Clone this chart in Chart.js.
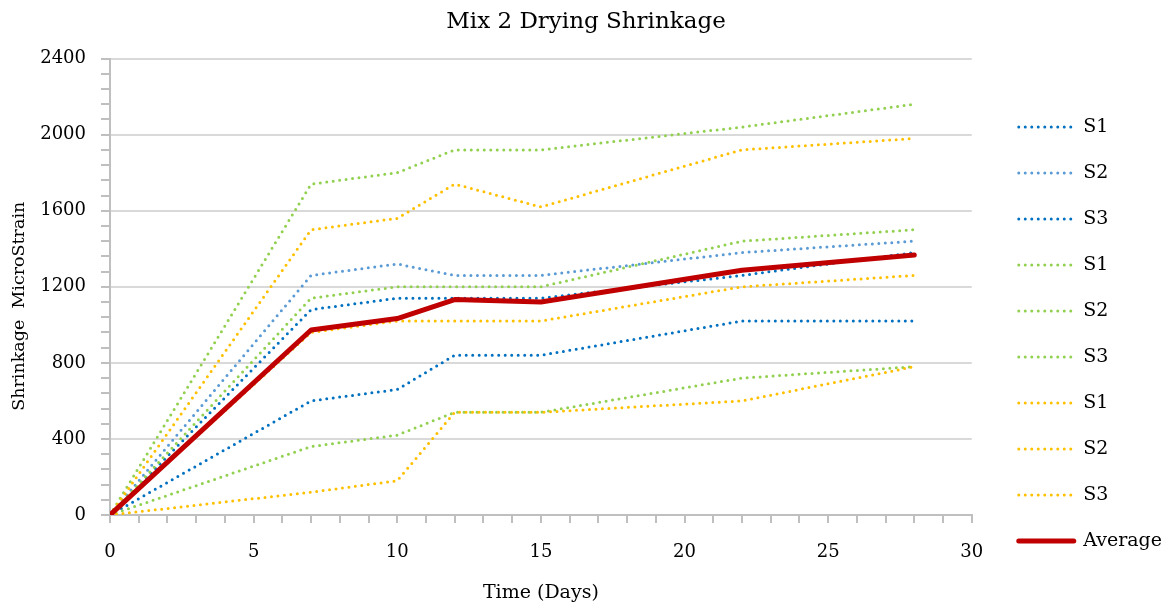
<!DOCTYPE html>
<html>
<head>
<meta charset="utf-8">
<script src="https://cdn.jsdelivr.net/npm/chart.js@4/dist/chart.umd.min.js"></script>
<style>
    body { margin: 0; background: #ffffff; }
    #wrap { width: 1168px; height: 608px; }
</style>
</head>
<body>
<div id="wrap"><canvas id="shrinkChart"></canvas></div>
<script>
// umur benda uji (hari)
const days = [0, 7, 10, 12, 15, 22, 28];

// sampel biru
const blueS1 = [0, 600, 660, 840, 840, 1020, 1020];
const blueS2 = [0, 1260, 1320, 1260, 1260, 1380, 1440];
const blueS3 = [0, 1080, 1140, 1140, 1140, 1260, 1380];

// sampel hijau
const greenS1 = [0, 1740, 1800, 1920, 1920, 2040, 2160];
const greenS2 = [0, 1140, 1200, 1200, 1200, 1440, 1500];
const greenS3 = [0, 360, 420, 540, 540, 720, 780];

// sampel kuning
const goldS1 = [0, 1500, 1560, 1740, 1620, 1920, 1980];
const goldS2 = [0, 960, 1020, 1020, 1020, 1200, 1260];
const goldS3 = [0, 120, 180, 540, 540, 600, 780];

// rata-rata
const average = [0, 973, 1033, 1133, 1120, 1287, 1367];

const yMajor = [0, 400, 800, 1200, 1600, 2000, 2400];
const xMajor = [0, 5, 10, 15, 20, 25, 30];

const fontFamily = '"DejaVu Serif", "Liberation Serif", serif';

function toPoints(values) {
    return values.map((v, i) => ({ x: days[i], y: v }));
}

function dotted(label, values, color, order) {
    return {
        label: label,
        data: toPoints(values),
        borderColor: color,
        backgroundColor: color,
        borderWidth: 3,
        borderDash: [0, 6.5],
        borderCapStyle: 'round',
        pointRadius: 0,
        pointHoverRadius: 0,
        tension: 0,
        order: order
    };
}

const datasets = [
    dotted('S1', blueS1, '#0070C0', 9),
    dotted('S2', blueS2, '#5B9BD5', 8),
    dotted('S3', blueS3, '#0070C0', 7),
    dotted('S1', greenS1, '#92D050', 6),
    dotted('S2', greenS2, '#92D050', 5),
    dotted('S3', greenS3, '#92D050', 4),
    dotted('S1', goldS1, '#FFC000', 3),
    dotted('S2', goldS2, '#FFC000', 2),
    dotted('S3', goldS3, '#FFC000', 1),
    {
        label: 'Average',
        data: toPoints(average),
        borderColor: '#C00000',
        backgroundColor: '#C00000',
        borderWidth: 5,
        borderCapStyle: 'round',
        borderJoinStyle: 'round',
        pointRadius: 0,
        pointHoverRadius: 0,
        tension: 0,
        order: 0
    }
];

// legenda pakai gaya garis dataset
function legendLabels(chart) {
    const items = Chart.defaults.plugins.legend.labels.generateLabels(chart);
    items.forEach(item => {
        const ds = chart.data.datasets[item.datasetIndex];
        item.lineDash = ds.borderDash || [];
        item.lineWidth = ds.borderWidth;
        item.strokeStyle = ds.borderColor;
        item.lineCap = ds.borderCapStyle;
    });
    return items;
}

const ctx = document.getElementById('shrinkChart');

new Chart(ctx, {

    type: 'line',

    data: { datasets: datasets },

    options: {

        responsive: true,
        maintainAspectRatio: false,
        animation: false,

        layout: {
            padding: { left: 0, right: -4, top: 0, bottom: 0 }
        },

        plugins: {

            title: {
                display: true,
                text: 'Mix 2 Drying Shrinkage',
                color: '#000000',
                font: { family: fontFamily, size: 23, weight: 'normal' },
                padding: { top: 8, bottom: 23 }
            },

            legend: {
                position: 'right',
                // judul kosong buat geser item ke bawah
                title: {
                    display: true,
                    text: '',
                    font: { size: 10 },
                    padding: { top: 48, bottom: 0 }
                },
                labels: {
                    usePointStyle: true,
                    pointStyle: 'line',
                    pointStyleWidth: 55,
                    color: '#000000',
                    font: { family: fontFamily, size: 19 },
                    padding: 27,
                    generateLabels: legendLabels,
                    sort: (a, b) => a.datasetIndex - b.datasetIndex
                }
            },

            tooltip: { enabled: false }
        },

        scales: {

            x: {
                type: 'linear',
                min: 0,
                max: 30,
                border: { color: '#BFBFBF', width: 2 },
                grid: {
                    drawOnChartArea: false,
                    color: '#BFBFBF',
                    tickLength: 8,
                    lineWidth: 2
                },
                ticks: {
                    stepSize: 1,
                    autoSkip: false,
                    maxRotation: 0,
                    color: '#000000',
                    font: { family: fontFamily, size: 18 },
                    padding: 19,
                    callback: v => xMajor.includes(v) ? v : ''
                },
                title: {
                    display: true,
                    text: 'Time (Days)',
                    color: '#000000',
                    font: { family: fontFamily, size: 19 },
                    padding: { top: 4, bottom: 4 }
                },
                afterFit: s => { s.height = 93; }
            },

            y: {
                min: 0,
                max: 2400,
                border: { color: '#BFBFBF', width: 2 },
                grid: {
                    color: c => yMajor.includes(c.tick.value) && c.tick.value !== 0 ? '#D9D9D9' : 'rgba(0,0,0,0)',
                    tickColor: '#BFBFBF',
                    tickLength: 9,
                    lineWidth: 2
                },
                ticks: {
                    stepSize: 80,
                    autoSkip: false,
                    color: '#000000',
                    font: { family: fontFamily, size: 18 },
                    padding: 15,
                    callback: v => yMajor.includes(v) ? v : ''
                },
                title: {
                    display: true,
                    text: 'Shrinkage  MicroStrain       ',
                    color: '#000000',
                    font: { family: fontFamily, size: 17.5 },
                    padding: { top: 9, bottom: 4 }
                },
                afterFit: s => { s.width = 110; }
            },

            // sumbu kosong, cuma buat jarak ke legenda
            gap: {
                type: 'linear',
                position: 'right',
                display: true,
                border: { display: false },
                grid: { display: false },
                ticks: { display: false },
                afterFit: s => { s.width = 20; }
            }
        }
    }
});
</script>
</body>
</html>
